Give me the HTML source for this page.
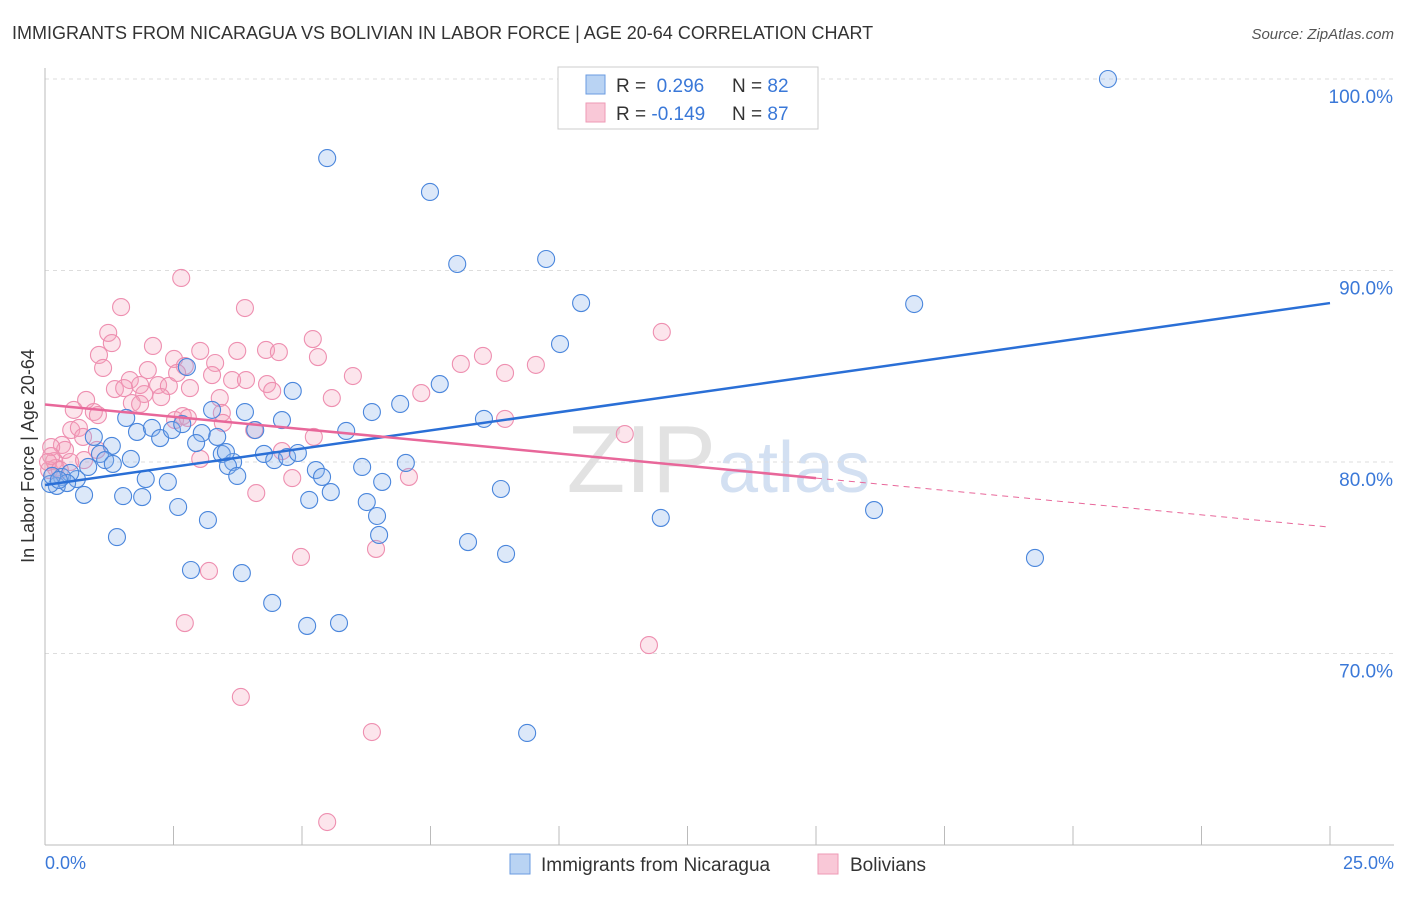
<!DOCTYPE html>
<html><head><meta charset="utf-8"><style>
body{margin:0;background:#fff;font-family:"Liberation Sans",sans-serif;}
svg text{font-family:"Liberation Sans",sans-serif;}
</style></head><body>
<svg id="chart" width="1406" height="892" viewBox="0 0 1406 892">
<text x="12" y="39" font-size="18" fill="#333">IMMIGRANTS FROM NICARAGUA VS BOLIVIAN IN LABOR FORCE | AGE 20-64 CORRELATION CHART</text>
<text x="1394" y="39" font-size="15" fill="#555" font-style="italic" text-anchor="end">Source: ZipAtlas.com</text>
<text x="716" y="492" font-size="96" fill="#e2e2e2" text-anchor="end" font-family="Liberation Serif">ZIP</text>
<text x="718" y="492" font-size="72" fill="#d3e0f2">atlas</text>
<g id="grid"></g><g id="axes"></g><g id="pts"></g><g id="lines"></g>
<text transform="translate(34,456) rotate(-90)" font-size="18" fill="#333" text-anchor="middle">In Labor Force | Age 20-64</text>
<text x="45" y="869" font-size="18" fill="#3a78d8">0.0%</text>
<text x="1394" y="869" font-size="18" fill="#3a78d8" text-anchor="end">25.0%</text>
<g>
<rect x="558" y="67" width="260" height="62" fill="#fff" stroke="#ccc"/>
<rect x="586" y="75" width="19" height="19" fill="#b9d3f3" stroke="#6a9be0"/>
<rect x="586" y="103" width="19" height="19" fill="#f9c8d7" stroke="#ee9ab5"/>
<text x="616" y="92" font-size="19" fill="#333">R = <tspan fill="#3a78d8">&#160;0.296</tspan><tspan x="732">N = </tspan><tspan fill="#3a78d8">82</tspan></text>
<text x="616" y="120" font-size="19" fill="#333">R = <tspan fill="#3a78d8">-0.149</tspan><tspan x="732">N = </tspan><tspan fill="#3a78d8">87</tspan></text>
</g>
<g><rect x="510" y="854" width="20" height="20" fill="#b9d3f3" stroke="#6a9be0"/><text x="541" y="871" font-size="19" fill="#333">Immigrants from Nicaragua</text></g>
<g><rect x="818" y="854" width="20" height="20" fill="#f9c8d7" stroke="#ee9ab5"/><text x="850" y="871" font-size="19" fill="#333">Bolivians</text></g>
</svg>
<script>
const yTicks=[100,90,80,70];
const yTickLabels=["100.0%","90.0%","80.0%","70.0%"];
const blueX=[20.68,5.49,7.49,8.02,9.75,10.43,16.91,10.02,7.68,4.82,2.76,3.25,3.89,4.61,6.91,6.36,8.54,5.86,4.09,0.95,1.58,1.79,2.08,2.24,2.47,2.67,3.05,3.35,2.94,1.30,1.07,1.17,1.67,3.44,3.66,4.26,4.46,4.71,4.92,5.27,5.39,6.17,7.02,6.56,5.56,5.14,6.26,6.46,6.50,3.56,3.74,1.96,2.39,1.52,1.89,0.76,0.62,0.33,0.49,0.23,0.10,0.14,0.43,2.59,3.17,1.40,2.84,3.83,4.42,5.10,5.72,8.23,8.97,8.87,11.98,16.13,19.26,9.38,0.84,3.52,1.32,0.27];
const blueY=[100.0,95.87,94.10,90.34,90.60,88.30,88.25,86.16,84.07,83.71,84.96,82.72,82.61,82.19,83.03,82.61,82.25,81.62,81.67,81.31,82.30,81.57,81.78,81.25,81.67,81.98,81.51,81.31,80.99,80.84,80.42,80.10,80.16,80.42,80.00,80.42,80.10,80.26,80.47,79.58,79.22,79.74,79.95,78.96,78.43,78.02,77.91,77.18,76.19,79.79,79.27,79.11,78.96,78.22,78.17,78.28,79.11,79.22,79.43,78.75,78.85,79.27,78.90,77.65,76.97,76.08,74.36,74.20,72.64,71.44,71.59,75.82,75.20,78.59,77.08,77.49,74.99,65.85,79.74,80.52,79.90,79.06];
const pinkX=[2.65,1.48,3.89,5.21,12.00,1.23,1.30,2.10,3.02,3.74,4.30,4.55,5.31,1.05,2.51,3.31,8.09,8.52,9.55,8.95,1.13,2.00,2.72,3.25,3.64,3.91,5.99,1.65,1.36,1.54,2.20,2.41,2.82,4.32,4.42,7.32,1.93,2.26,3.40,0.80,1.69,1.85,5.58,0.56,0.95,1.03,2.68,2.53,3.44,8.95,0.51,0.66,0.74,4.07,5.23,11.28,0.33,0.39,0.12,0.18,0.49,0.76,0.21,0.08,3.02,4.61,7.08,4.81,4.11,6.44,4.98,3.19,2.72,11.75,3.81,6.36,5.49,0.12,0.06,0.29,3.46,2.78,1.85,1.01,2.57];
const pinkY=[89.61,88.09,88.04,86.42,86.79,86.74,86.21,86.06,85.80,85.80,85.85,85.74,85.48,85.59,85.38,85.17,85.12,85.54,85.07,84.65,84.91,84.80,85.01,84.54,84.28,84.28,84.49,84.28,83.81,83.86,84.02,83.97,83.86,84.07,83.71,83.60,83.55,83.39,83.34,83.24,83.08,83.03,83.34,82.72,82.61,82.45,82.40,82.19,82.56,82.25,81.67,81.78,81.31,81.67,81.31,81.46,80.89,80.63,80.78,80.05,80.00,80.10,79.69,79.58,80.16,80.57,79.22,79.16,78.38,75.46,75.04,74.31,71.59,70.44,67.73,65.90,61.20,80.31,80.00,79.58,82.04,82.30,84.02,80.63,84.65];
const blueTrend=[78.8,88.3];
const pinkTrend=[83.0,76.6];
const pinkSolidEnd=15;
const NS="http://www.w3.org/2000/svg";
const X=v=>45+v/25*1285;
const Y=v=>79+(100-v)*19.15;
function mk(tag,attrs,parent){const e=document.createElementNS(NS,tag);for(const k in attrs)e.setAttribute(k,attrs[k]);document.getElementById(parent).appendChild(e);return e;}
yTicks.forEach((t,i)=>{
 const l=mk('line',{x1:45,x2:1394,y1:Y(t),y2:Y(t),stroke:'#ddd','stroke-dasharray':'4,4'},'grid');
 
 
 const tx=mk('text',{x:1393,y:Y(t)+24,'font-size':19,fill:'#3a78d8','text-anchor':'end'},'grid');
 tx.textContent=yTickLabels[i];
 
 
});
const ax=mk('line',{x1:45,x2:45,y1:68,y2:845,stroke:'#bbb'},'axes');


const bx=mk('line',{x1:45,x2:1394,y1:845,y2:845,stroke:'#bbb'},'axes');


for(let i=0;i<=10;i++){const t=mk('line',{x1:X(i*2.5),x2:X(i*2.5),y1:826,y2:845,stroke:'#bbb'},'axes');
 
 }
pinkX.forEach((v,i)=>{const c=mk('circle',{cx:X(v),cy:Y(pinkY[i]),r:8.5,fill:'rgba(244,160,188,0.28)',stroke:'#ee8fb0','stroke-width':1.1},'pts');
 
 });
blueX.forEach((v,i)=>{const c=mk('circle',{cx:X(v),cy:Y(blueY[i]),r:8.5,fill:'rgba(140,180,235,0.3)',stroke:'#4a86dc','stroke-width':1.1},'pts');
 
 });
const bl=mk('line',{x1:X(0),y1:Y(blueTrend[0]),x2:X(25),y2:Y(blueTrend[1]),stroke:'#2a6fd6','stroke-width':2.5},'lines');


const pm=pinkTrend[0]+(pinkTrend[1]-pinkTrend[0])*pinkSolidEnd/25;
const pl=mk('line',{x1:X(0),y1:Y(pinkTrend[0]),x2:X(pinkSolidEnd),y2:Y(pm),stroke:'#e8679a','stroke-width':2.5},'lines');


const pd=mk('line',{x1:X(pinkSolidEnd),y1:Y(pm),x2:X(25),y2:Y(pinkTrend[1]),stroke:'#e8679a','stroke-width':1,'stroke-dasharray':'6,5'},'lines');


</script>
</body></html>
